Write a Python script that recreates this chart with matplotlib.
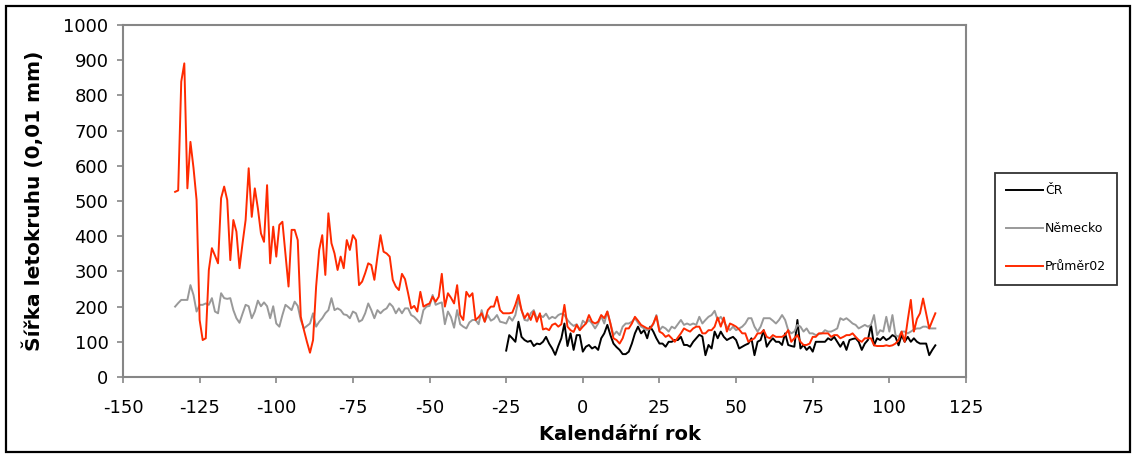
import matplotlib.pyplot as plt
from matplotlib.patches import Rectangle
import numpy as np

plt.rcParams['axes.unicode_minus'] = False

# tree-ring widths (0.01 mm) by calendar year
years_all = np.arange(-133, 116)
years_cr = np.arange(-25, 116)

cr = [75, 119, 110, 100, 157, 114, 105, 100, 103, 88, 95, 93, 100, 114, 95, 81,
      63, 88, 110, 152, 88, 124, 77, 119,
      119, 72, 86, 91, 81, 86, 77, 110, 124, 148, 119, 95, 85, 77, 65, 65, 72, 95,
      124, 143, 124, 133, 110, 143, 129, 110, 95, 95, 86, 100, 100, 105, 105, 114,
      91, 91, 86, 100, 110, 120, 115,
      62, 91, 81, 129, 110, 129, 114, 105, 110, 114, 105, 81, 86, 91, 95, 110, 62,
      100, 105, 133, 86, 100, 110, 100, 100, 91, 124, 91, 88, 86, 162, 81, 91, 77,
      86, 72, 100, 100, 100, 100, 110,
      105, 114, 100, 86, 100, 77, 105, 108, 110, 100, 77, 95, 105, 148, 90, 110,
      105, 114, 105, 110, 119, 114, 90, 119, 100, 114, 100, 110, 100, 95, 95, 95,
      62, 77, 90]

nemecko = [200, 210, 219, 219, 219, 261, 233, 186, 205, 205, 209, 205, 224, 186,
           181, 238, 224, 222, 224, 190, 167, 154, 180, 205, 201, 167, 186, 217,
           201, 212, 201, 167, 201, 152, 143, 176, 205, 198, 190, 214, 202, 162,
           138, 145, 152, 181, 143, 157, 167, 181, 190,
           224, 190, 195, 190, 178, 176, 167, 186, 181, 157, 162, 181, 209, 190,
           167, 190, 181, 190, 195, 209, 200, 181, 195, 181, 195, 195, 176, 171,
           162, 152, 190, 200, 202, 233, 205, 209, 212, 150, 186, 170, 140,
           190, 150, 143, 138, 155, 162, 162, 150, 190, 157, 176, 160, 165, 176,
           157, 155, 152, 171, 160, 176, 219, 190, 162, 160, 181, 190, 165, 176,
           170, 180, 165, 171, 167, 176, 180, 176, 162, 152, 145, 150,
           133, 160, 152, 162, 152, 138, 152, 173, 152, 186, 152, 119, 129, 119,
           143, 152, 152, 157, 167, 154, 143, 138, 133, 138, 150, 176, 133, 143,
           138, 129, 143, 138, 150, 162, 148, 152, 148, 152, 148, 171, 152,
           162, 171, 176, 188, 162, 171, 157, 143, 133, 143, 133, 138, 143, 152,
           167, 167, 143, 129, 143, 167, 167, 167, 160, 152, 162, 176, 162, 133,
           124, 129, 148, 143, 129, 138, 124, 124, 119, 122, 124, 133, 129,
           129, 133, 138, 167, 162, 167, 160, 152, 148, 138, 143, 148, 143, 148,
           176, 119, 133, 129, 171, 129, 176, 119, 114, 129, 129, 124, 129, 135,
           138, 138, 143, 143, 138, 138, 138]

prumer02 = [526, 530, 839, 891, 536, 668, 594, 503, 162, 105, 110, 304, 366, 345,
            323, 508, 541, 503, 332, 446, 413, 309, 380, 446, 593, 455, 536, 479,
            408, 384, 545, 323, 427, 342, 432, 441, 350, 257, 418, 418, 389, 171,
            134, 100, 69, 105, 257, 361, 403, 290, 465,
            380, 351, 304, 342, 309, 389, 361, 403, 389, 261, 271, 295, 323, 318,
            276, 342, 403, 356, 351, 342, 276, 257, 247, 293, 278, 238, 195, 202,
            186, 242, 200, 205, 209, 228, 214, 228, 293, 200, 238, 225, 209,
            261, 176, 162, 242, 228, 238, 162, 170, 181, 157, 190, 200, 200, 228,
            190, 181, 181, 181, 183, 205, 233, 190, 167, 181, 162, 186, 157, 181,
            135, 138, 133, 148, 152, 143, 150, 205, 143, 133, 128, 148,
            133, 143, 152, 176, 157, 152, 157, 176, 167, 186, 152, 110, 105, 95,
            110, 138, 138, 152, 171, 160, 148, 143, 138, 138, 152, 173, 129, 124,
            114, 119, 110, 100, 112, 124, 138, 133, 129, 138, 143, 143, 124,
            124, 133, 133, 143, 169, 143, 169, 129, 152, 148, 143, 135, 124, 124,
            100, 105, 110, 124, 124, 133, 114, 110, 119, 114, 114, 114, 120, 133,
            100, 110, 119, 100, 91, 91, 95, 114, 114, 124, 124, 124, 124,
            114, 119, 119, 110, 114, 119, 119, 124, 114, 105, 100, 110, 110, 110,
            90, 88, 88, 88, 90, 88, 90, 95, 105, 129, 100, 162, 219, 129, 165, 181,
            223, 181, 138, 160, 181]

axis_grey = '#868686'
W, H = 1136, 455

fig = plt.figure(figsize=(W / 100, H / 100), dpi=100)
ax = fig.add_axes([123 / W, 1 - 377 / H, 843 / W, 352 / H])

ax.plot(years_cr, cr, color='black', lw=1.4, label='ČR')
ax.plot(years_all, nemecko, color='#999999', lw=1.4, label='Německo')
ax.plot(years_all, prumer02, color='#ff2a00', lw=1.4, label='Průměr02')

ax.set_xlim(-150, 125)
ax.set_ylim(0, 1000)
ax.set_xticks(range(-150, 126, 25))
ax.set_yticks(range(0, 1001, 100))
ax.tick_params(direction='out', length=4.5, width=1.2, color=axis_grey,
               labelsize=13)
ax.tick_params(axis='y', pad=6)
ax.tick_params(axis='x', pad=11)
for side in ['left', 'bottom', 'right', 'top']:
    ax.spines[side].set_color(axis_grey)
    ax.spines[side].set_linewidth(1.5)

fig.text(620 / W, 1 - 435 / H, 'Kalendářní rok', fontsize=14,
         fontweight='bold', ha='center', va='center')
fig.text(33 / W, 1 - 201 / H, 'Šířka letokruhu (0,01 mm)', fontsize=14.5,
         fontweight='bold', ha='center', va='center', rotation=90)

leg = fig.legend(loc='upper left', bbox_to_anchor=(995 / W, 1 - 173 / H),
                 borderaxespad=0, frameon=True, fancybox=False, fontsize=9,
                 handlelength=2.9, labelspacing=2.0, borderpad=0.9,
                 handletextpad=0.2)
leg.get_frame().set_edgecolor('black')
leg.get_frame().set_linewidth(1.3)

# outer frame round the whole chart
frame = Rectangle((6 / W, 3 / H), 1124 / W, 446 / H, transform=fig.transFigure,
                  fill=False, edgecolor='black', lw=1.6, zorder=10)
fig.add_artist(frame)

fig.savefig('out.png', dpi=100)
